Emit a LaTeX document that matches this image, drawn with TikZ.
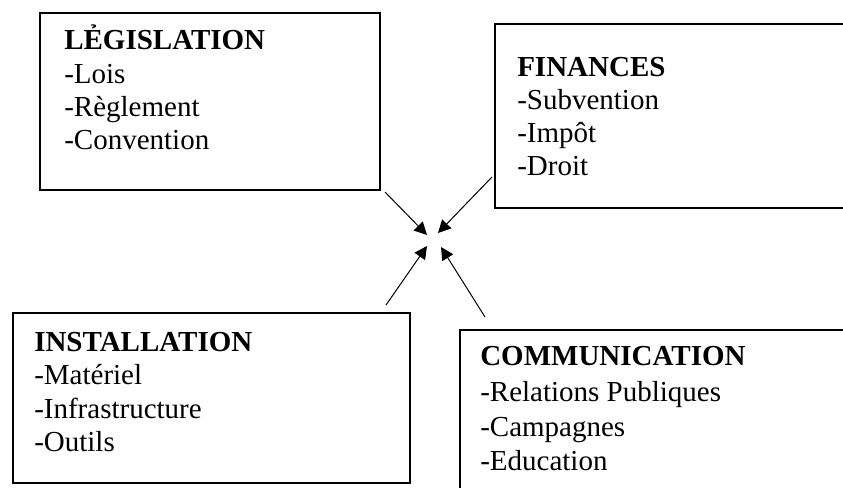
\documentclass[tikz,border=0pt]{standalone}
\usepackage{fontspec}
\setmainfont{Liberation Serif}
\usetikzlibrary{arrows.meta,fit}

\begin{document}
\begin{tikzpicture}[x=0.75pt,y=-0.75pt]
        \tikzstyle{every node}=[font=\fontsize{21.75}{26}\selectfont, inner sep=0pt]
        \tikzstyle{box}=[draw, line width=2pt]
        \tikzstyle{title}=[anchor=base west, font=\fontsize{21.75}{26}\selectfont\bfseries]
        \tikzstyle{item}=[anchor=base west]
        \tikzstyle{push}=[-{Triangle[length=9.5pt,width=9.5pt]}, line width=0.75pt]
        \useasboundingbox (0,0) rectangle (843,488);
        \clip (0,0) rectangle (843,488);

        % the four boxes
        \node[box, fit={(40,13) (380,190)}] (legis) {};
        \node[box, fit={(495,24) (852,208)}] (fin) {};
        \node[box, fit={(13,313) (410,483)}] (inst) {};
        \node[box, fit={(460,330) (852,498)}] (comm) {};

        \node[title] (legis-t) at (64,50) {LẺGISLATION};
        \foreach\t [count=\i] in {Lois,Règlement,Convention}{
            \node[item] (legis-\i) at (64,51+33*\i) {-\t};
        }

        \node[title] (fin-t) at (517,77) {FINANCES};
        \foreach\t [count=\i] in {Subvention,Impôt,Droit}{
            \node[item] (fin-\i) at (517,77+33*\i) {-\t};
        }

        \node[title] (inst-t) at (34,352) {INSTALLATION};
        \foreach\t [count=\i] in {Matériel,Infrastructure,Outils}{
            \node[item] (inst-\i) at (34,352+33*\i) {-\t};
        }

        \node[title] (comm-t) at (480,366) {COMMUNICATION};
        \foreach\t [count=\i] in {Relations Publiques,Campagnes,Education}{
            \node[item] (comm-\i) at (480,368+34*\i) {-\t};
        }

        % arrows to the middle
        \coordinate (legis-out) at (385,192);
        \coordinate (fin-out) at (492,177);
        \coordinate (inst-out) at (386,305);
        \coordinate (comm-out) at (485,317);
        \coordinate (mid-nw) at (427,235);
        \coordinate (mid-ne) at (438,233);
        \coordinate (mid-sw) at (427,246);
        \coordinate (mid-se) at (441,247);

        \draw[push] (legis-out) -- (mid-nw);
        \draw[push] (fin-out) -- (mid-ne);
        \draw[push] (inst-out) -- (mid-sw);
        \draw[push] (comm-out) -- (mid-se);
  \end{tikzpicture}
\end{document}
